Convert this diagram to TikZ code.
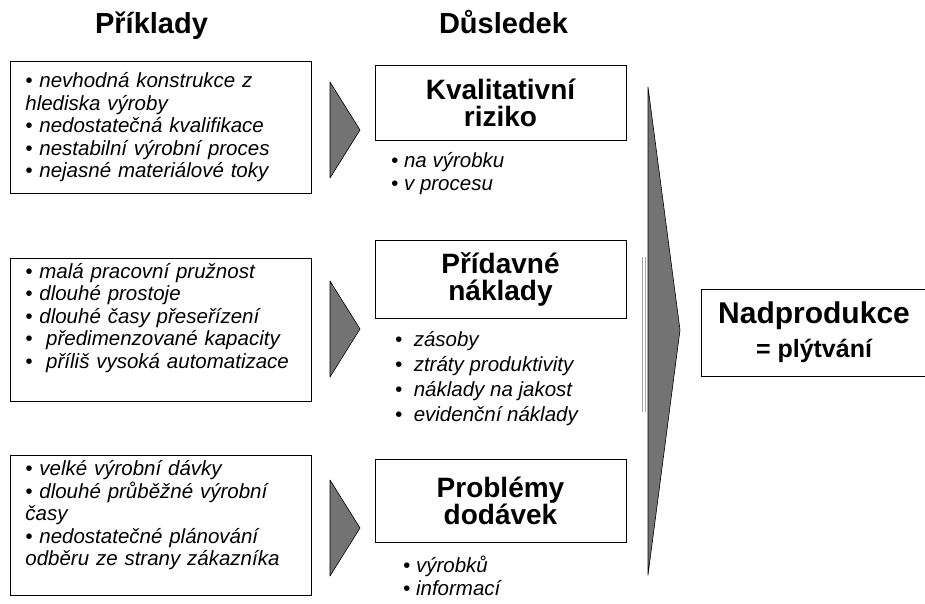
\documentclass[tikz,border=0pt]{standalone}
\usepackage{fontspec}
\setmainfont{Liberation Sans}
\begin{document}
\begin{tikzpicture}[x=1pt,y=-1pt,
  title/.style={font=\fontsize{29}{32}\selectfont\bfseries,anchor=base,inner sep=0pt},
  exbox/.style={draw,line width=0.8pt,anchor=north west,inner xsep=15pt,text width=271pt,
    minimum width=301pt,align=left,font=\fontsize{20.5}{22.5}\selectfont\itshape},
  conbox/.style={draw,line width=0.8pt,minimum width=251pt,align=center,
    font=\fontsize{28}{27}\selectfont\bfseries},
  sublist/.style={anchor=north west,inner sep=0pt,align=left,font=\fontsize{20.5}{23}\selectfont\itshape},
  wedge/.style={fill=black!55,draw=black,line width=0.6pt,line join=round}]
  \useasboundingbox (0,0) rectangle (925,603);
  \node[title] (priklady) at (151.5,33) {Příklady};
  \node[title] (dusledek) at (503.5,33) {Důsledek};
  \node[exbox,minimum height=132pt] (ex1) at (10,61)
    {• nevhodná konstrukce z\\hlediska výroby\\• nedostatečná kvalifikace\\• nestabilní výrobní proces\\• nejasné materiálové toky};
  \node[exbox,minimum height=143pt,text depth=118pt] (ex2) at (10,258)
    {• malá pracovní pružnost\\• dlouhé prostoje\\• dlouhé časy přeseřízení\\•\ \ předimenzované kapacity\\•\ \ příliš vysoká automatizace};
  \node[exbox,minimum height=140pt,text depth=114pt] (ex3) at (10,455)
    {• velké výrobní dávky\\• dlouhé průběžné výrobní\\časy\\• nedostatečné plánování\\odběru ze strany zákazníka};
  \foreach \yc in {130,329,528}
    \draw[wedge] (330,\yc-48) -- (360,\yc) -- (330,\yc+48) -- cycle;
  \node[conbox,minimum height=75pt] (con1) at (500.5,102.5) {Kvalitativní\\riziko};
  \node[conbox,minimum height=78pt] (con2) at (500.5,279) {Přídavné\\náklady};
  \node[conbox,minimum height=83pt] (con3) at (500.5,500.5) {Problémy\\dodávek};
  \node[sublist] (list1) at (391,152) {• na výrobku\\• v procesu};
  \node[sublist,font=\fontsize{20.5}{25}\selectfont\itshape] (list2) at (395,331)
    {•\ \ zásoby\\•\ \ ztráty produktivity\\•\ \ náklady na jakost\\•\ \ evidenční náklady};
  \node[sublist] (list3) at (403,556) {• výrobků\\• informací};
  \draw[black!35,line width=0.7pt] (642,257) -- (642,412);
  \draw[black!35,line width=0.7pt] (645,257) -- (645,412);
  \draw[wedge] (648,87) -- (680,330) -- (648,575) -- cycle;
  \node[draw,line width=0.8pt,minimum width=226pt,minimum height=87pt,align=center,
    font=\fontsize{30}{34}\selectfont\bfseries] (nadprod) at (814,332.5)
    {Nadprodukce\\{\fontsize{25}{34}\selectfont = plýtvání}};
\end{tikzpicture}
\end{document}
